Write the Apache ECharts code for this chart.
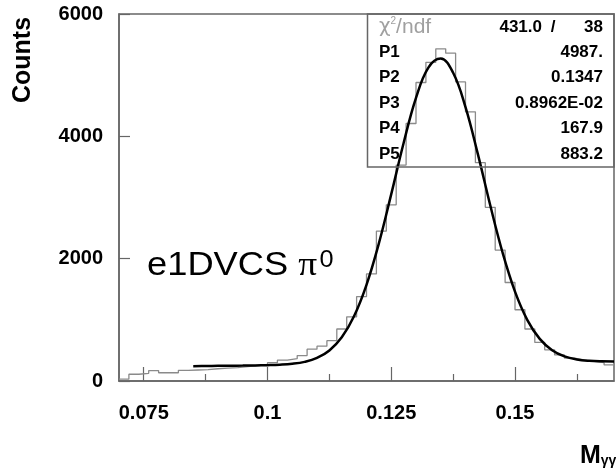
<!DOCTYPE html>
<html>
<head>
<meta charset="utf-8">
<script src="https://cdn.jsdelivr.net/npm/echarts@6/dist/echarts.min.js"></script>
<style>
html,body{margin:0;padding:0;background:#fff;}
#c{width:616px;height:470px;}
</style>
</head>
<body>
<div id="c"></div>
<script>
// ---- data ----
const binStart = 0.07;
const binWidth = 0.002;
const counts = [30,110,125,170,135,135,175,180,185,200,
                210,220,235,250,265,300,340,365,415,520,
                570,660,850,1050,1380,1750,2450,2880,3530,4210,
                4880,5210,5430,5360,4890,4400,3570,2840,2140,1610,
                1165,850,630,510,426,375,344,320,300,262];
const fitX = [0.085,0.0875,0.09,0.0925,0.095,0.0975,0.1,0.1025,0.105,0.1075,
              0.11,0.1125,0.115,0.1175,0.12,0.1225,0.125,0.1275,0.13,0.1325,
              0.135,0.1375,0.14,0.1425,0.145,0.1475,0.15,0.1525,0.155,0.1575,
              0.16,0.1625,0.165,0.1675,0.17];
const fitY = [243.0,245.2,247.4,249.7,252.1,254.9,259.0,266.3,281.2,312.7,
              376.9,499.3,714.6,1062.5,1572.8,2250.4,3054.7,3891.9,4629.0,5123.9,
              5271.3,5038.8,4478.5,3708.5,2872.3,2096.7,1461.7,996.4,688.3,503.1,
              402.0,352.0,330.0,322.0,320.2];
const xMajorTicks = [0.075,0.1,0.125,0.15];
const xMinorTicks = [0.0875,0.1125,0.1375,0.1625];
const statLabels = ['P1','P2','P3','P4','P5'];
const statValues = ['4987.','0.1347','0.8962E-02','167.9','883.2'];
const chiValue = '431.0';
const ndfValue = '38';

// ---- build series data ----
const histData = counts.map((v,i)=>[binStart + i*binWidth, v]);
histData.push([binStart + counts.length*binWidth, counts[counts.length-1]]);
const fitData = fitX.map((x,i)=>[x, fitY[i]]);

const FONT = 'Liberation Sans, Arial, sans-serif';
const chart = echarts.init(document.getElementById('c'), null, {renderer:'canvas'});

const rowY = [52, 77.5, 103, 128.5, 154];
const SF = 'bold 17px ' + FONT;
const mid = {verticalAlign:'middle', textVerticalAlign:'middle'};
const graphics = [
  {type:'rect', shape:{x:367.5, y:14, width:246.5, height:153}, style:{fill:'none', stroke:'#666', lineWidth:1.5}, z:10},
  {type:'text', x:379, y:27, style:Object.assign({text:'{c|χ}{s|2}{n|/ndf}', rich:{c:{fontFamily:'DejaVu Sans',fontSize:20,fill:'#a0a0a0'},s:{fontFamily:FONT,fontSize:10,fill:'#a0a0a0',verticalAlign:'top'},n:{fontFamily:FONT,fontSize:21,fill:'#a0a0a0'}}}, mid), z:11},
  {type:'text', x:542, y:27, style:Object.assign({text:chiValue, font:SF, fill:'#000', align:'right', textAlign:'right'}, mid), z:11},
  {type:'text', x:553, y:27, style:Object.assign({text:'/', font:SF, fill:'#000', align:'center', textAlign:'center'}, mid), z:11},
  {type:'text', x:603, y:27, style:Object.assign({text:ndfValue, font:SF, fill:'#000', align:'right', textAlign:'right'}, mid), z:11},
  {type:'text', x:23, y:60, rotation:Math.PI/2, style:Object.assign({text:'Counts', font:'bold 25px '+FONT, fill:'#000', align:'center', textAlign:'center'}, mid)},
  {type:'text', x:147, y:266, scaleX:1.1, style:Object.assign({text:'{a|e1DVCS }{p|π}{s|0}', rich:{a:{fontFamily:FONT,fontSize:33,fill:'#000'},p:{fontFamily:'Liberation Serif',fontSize:34,fill:'#000'},s:{fontFamily:FONT,fontSize:23,fill:'#000',verticalAlign:'top',padding:[0,0,0,2]}}}, mid)},
  {type:'text', x:580, y:456, style:Object.assign({text:'{m|M}{g|γγ}', rich:{m:{fontFamily:FONT,fontWeight:'bold',fontSize:25,fill:'#000'},g:{fontFamily:FONT,fontWeight:'bold',fontSize:14,fill:'#000',verticalAlign:'bottom',padding:[10,0,0,0]}}}, mid)}
];
statLabels.forEach((l,i)=>{
  graphics.push({type:'text', x:379, y:rowY[i], style:Object.assign({text:l, font:SF, fill:'#000'}, mid), z:11});
  graphics.push({type:'text', x:603, y:rowY[i], style:Object.assign({text:statValues[i], font:SF, fill:'#000', align:'right', textAlign:'right'}, mid), z:11});
});

chart.setOption({
  animation:false,
  backgroundColor:'#fff',
  grid:{left:119, right:2, top:14, bottom:89, show:true, borderColor:'#666', borderWidth:1.5, backgroundColor:'transparent'},
  xAxis:[{
    type:'value', min:0.07, max:0.17, gridIndex:0, position:'bottom',
    axisLine:{show:true, lineStyle:{color:'#666', width:1.5}},
    axisTick:{show:true, inside:true, length:14, customValues:xMajorTicks, lineStyle:{color:'#666', width:1.2}},
    axisLabel:{show:true, customValues:xMajorTicks, margin:22, fontFamily:FONT, fontWeight:'bold', fontSize:20, color:'#000',
      formatter:v=>String(+v.toFixed(4))},
    splitLine:{show:false}
  },{
    type:'value', min:0.07, max:0.17, gridIndex:0, position:'bottom',
    axisLine:{show:false},
    axisTick:{show:true, inside:true, length:7, customValues:xMinorTicks, lineStyle:{color:'#666', width:1.2}},
    axisLabel:{show:false},
    splitLine:{show:false}
  }],
  yAxis:{
    type:'value', min:0, max:6000, interval:2000,
    axisLine:{show:true, lineStyle:{color:'#666', width:1.5}},
    axisTick:{show:true, inside:true, length:11, lineStyle:{color:'#666', width:1.2}},
    axisLabel:{margin:16, fontFamily:FONT, fontWeight:'bold', fontSize:20, color:'#000', formatter:v=>String(v)},
    splitLine:{show:false}
  },
  series:[
    {type:'line', step:'end', data:histData, showSymbol:false, symbol:'none', lineStyle:{color:'#8a8a8a', width:1.3}, z:2, clip:true},
    {type:'line', smooth:0.4, data:fitData, showSymbol:false, symbol:'none', lineStyle:{color:'#000', width:2.5}, z:3, clip:true}
  ],
  graphic:graphics
});
</script>
</body>
</html>
